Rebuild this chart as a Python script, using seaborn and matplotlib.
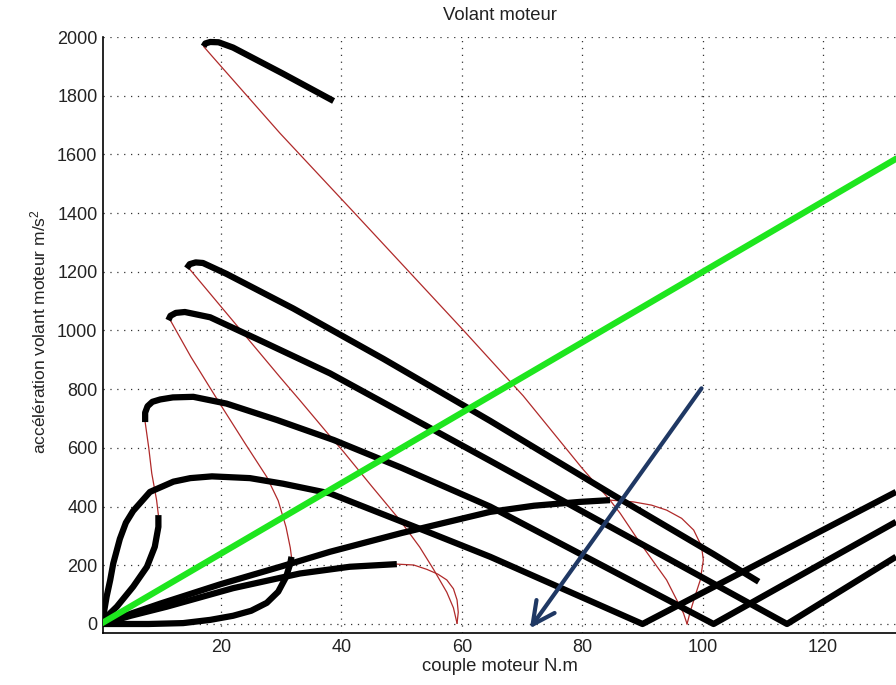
import matplotlib
matplotlib.use("Agg")
import matplotlib.pyplot as plt
import seaborn as sns

# ---------------- data ----------------
title = "Volant moteur"
x_label = "couple moteur N.m"
y_label = "accélération volant moteur m/s$^2$"
x_ticks = [20, 40, 60, 80, 100, 120]
y_ticks = [0, 200, 400, 600, 800, 1000, 1200, 1400, 1600, 1800, 2000]

# black trajectories
curve_a_x = [17.1, 17.4, 18.2, 19.6, 22.0, 30.3, 38.7]
curve_a_y = [1968, 1978, 1983, 1982, 1964, 1875, 1782]

curve_b_x = [14.3, 14.8, 15.8, 17.0, 20.9, 32.0, 47.0, 64.7, 85.0, 101.8, 109.3]
curve_b_y = [1212, 1226, 1232, 1230, 1193, 1075, 903, 692, 441, 238, 144]

curve_c_x = [11.25, 11.6, 12.5, 14.0, 18.2, 26.5, 38.1, 51.4, 64.7, 114.0, 132.1]
curve_c_y = [1035, 1050, 1060, 1063, 1045, 966, 854, 705, 556, 0, 229]

curve_d_x = [7.4, 7.4, 7.8, 8.6, 9.9, 12.0, 15.4, 20.9, 29.3, 38.7, 50.0, 64.7, 101.8, 132.1]
curve_d_y = [688, 720, 742, 757, 765, 772, 774, 751, 695, 627, 532, 400, 0, 348]

curve_e_x = [0.3, 0.6, 1.0, 1.6, 2.1, 3.2, 4.2, 5.4, 8.2, 12.1, 14.9, 18.5, 24.8, 30.3, 38.1, 47.0, 55.3, 64.7, 90.0, 132.1]
curve_e_y = [0, 45, 93, 150, 206, 290, 345, 385, 450, 485, 497, 503, 497, 478, 445, 373, 306, 229, 0, 450]

curve_f_x = [0.3, 1.0, 2.7, 5.4, 7.7, 9.0, 9.6, 9.6]
curve_f_y = [5, 25, 59, 127, 195, 263, 331, 371]

curve_g_x = [0.3, 8.0, 13.7, 18.2, 22.0, 25.0, 27.6, 29.5, 30.8, 31.5, 31.7]
curve_g_y = [0, 0, 3, 14, 28, 45, 72, 110, 160, 206, 229]

curve_h_x = [0.3, 5.0, 11.0, 22.0, 33.1, 41.4, 49.2]
curve_h_y = [0, 28, 59, 122, 172, 195, 204]

curve_i_x = [0.3, 5.0, 10.0, 20.0, 30.0, 38.1, 50.0, 64.7, 72.0, 79.6, 84.6]
curve_i_y = [0, 35, 70, 136, 196, 246, 310, 382, 403, 416, 422]

black_curves = [
    (curve_a_x, curve_a_y), (curve_b_x, curve_b_y), (curve_c_x, curve_c_y),
    (curve_d_x, curve_d_y), (curve_e_x, curve_e_y), (curve_f_x, curve_f_y),
    (curve_g_x, curve_g_y), (curve_h_x, curve_h_y), (curve_i_x, curve_i_y),
]

# thin red trajectories
red_a_x = [17.1, 18.5, 29.8, 42.0, 60.2, 70.2, 80.0, 84.6, 86.3, 89.6, 94.0, 96.8, 97.4]
red_a_y = [1968, 1935, 1672, 1404, 1002, 777, 530, 422, 377, 276, 150, 37, 0]

red_i_x = [84.6, 88.5, 91.5, 94.0, 96.5, 98.5, 99.8, 100.1, 99.6, 98.8, 97.9, 97.4]
red_i_y = [422, 416, 405, 388, 360, 320, 265, 218, 150, 100, 40, 0]

red_b_x = [14.3, 29.8, 33.1, 38.1, 40.3, 45.0, 49.7, 53.0, 55.3, 57.5, 58.6, 59.2]
red_b_y = [1221, 841, 762, 640, 588, 470, 354, 262, 186, 108, 55, 2]

red_c_x = [11.25, 15.0, 19.8, 24.0, 27.6, 29.5, 30.8, 31.5, 31.7]
red_c_y = [1047, 910, 751, 615, 501, 420, 330, 260, 229]

red_h_x = [49.2, 52.0, 54.2, 56.0, 57.5, 58.6, 59.2, 59.4, 59.2]
red_h_y = [204, 201, 186, 170, 150, 120, 82, 40, 2]

red_df_x = [7.4, 8.0, 8.5, 9.3, 9.6]
red_df_y = [688, 600, 513, 422, 371]

red_curves = [
    (red_a_x, red_a_y), (red_i_x, red_i_y), (red_b_x, red_b_y),
    (red_c_x, red_c_y), (red_h_x, red_h_y), (red_df_x, red_df_y),
]

# green reference line
green_x = [0.0, 132.1]
green_y = [0.0, 1585.0]

# annotation arrow (start -> tip)
arrow_start = (99.8, 803)
arrow_end = (71.3, -15)

# ---------------- plot ----------------
sns.set_style("white")
plt.rcParams["font.family"] = ["Liberation Sans", "DejaVu Sans"]
plt.rcParams["mathtext.fontset"] = "custom"
plt.rcParams["mathtext.rm"] = "Liberation Sans"
plt.rcParams["mathtext.it"] = "Liberation Sans"

W, H = 896, 685
fig = plt.figure(figsize=(W / 100, H / 100), dpi=100)
ax = fig.add_axes([103 / W, 52 / H, 793 / W, 596 / H])

for cx, cy in red_curves:
    sns.lineplot(x=cx, y=cy, sort=False, estimator=None, color="#b02a2a",
                 lw=0.9, ax=ax, zorder=3)

for cx, cy in black_curves:
    sns.lineplot(x=cx, y=cy, sort=False, estimator=None, color="black",
                 lw=4.5, ax=ax, zorder=4, solid_capstyle="butt",
                 solid_joinstyle="round")

sns.lineplot(x=green_x, y=green_y, sort=False, estimator=None, color="#1ee61e",
             lw=4.5, ax=ax, zorder=5)

ax.annotate("", xy=arrow_end, xytext=arrow_start,
            arrowprops=dict(arrowstyle="->", color="#1f3864", lw=3,
                            mutation_scale=40, shrinkA=0, shrinkB=0),
            zorder=6)

ax.set_xlim(0.4, 132.1)
ax.set_ylim(-30.7, 2000)
ax.set_xticks(x_ticks)
ax.set_yticks(y_ticks)

ax.grid(True, linestyle=(0, (1, 4.5)), color="#333333", lw=0.9)
ax.set_axisbelow(True)

for side in ["top", "right"]:
    ax.spines[side].set_visible(False)
for side in ["left", "bottom"]:
    ax.spines[side].set_color("black")
    ax.spines[side].set_linewidth(1.2)

ax.tick_params(direction="in", length=5, width=1, labelsize=13,
               labelcolor="#222222", pad=4)

ax.set_title(title, fontsize=13.3, color="#222222", pad=12)
ax.set_xlabel(x_label, fontsize=13.3, color="#222222")
ax.set_ylabel(y_label, fontsize=12.5, color="#222222")
ax.xaxis.set_label_coords(0.5, -0.042)
ax.yaxis.set_label_coords(-0.069, 0.505)

fig.savefig("out.png", dpi=100)
